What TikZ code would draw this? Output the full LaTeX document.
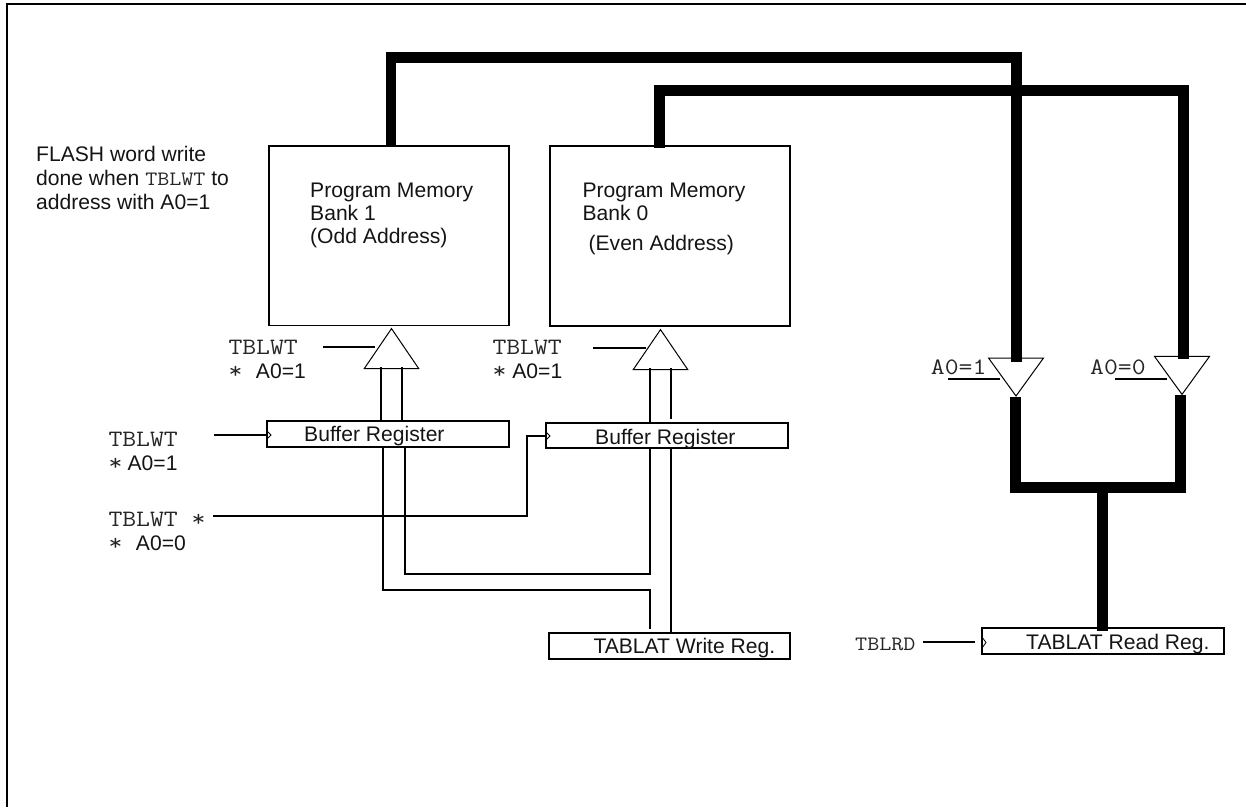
\documentclass[tikz,border=0pt]{standalone}
\usepackage{fontspec}
\setmainfont{Liberation Sans}
\newfontfamily\courfont[FakeStretch=1.146]{Latin Modern Mono}
\usetikzlibrary{shapes.geometric}
\newcommand{\mt}[1]{{\courfont\fontsize{23.5}{24}\selectfont\color{black!85}#1}}
\newcommand{\ms}[1]{{\courfont\fontsize{20.4}{24}\selectfont\color{black!85}#1}}
\tikzset{
  x=1pt,y=-1pt,
  regbox/.style={draw,line width=1.8pt,inner sep=0pt},
  wire/.style={line width=1.8pt,line cap=butt,line join=miter},
  bus/.style={line width=10.6pt,line cap=butt,line join=miter},
  gateup/.style={draw,line width=1pt,fill=white,isosceles triangle,isosceles triangle stretches,shape border rotate=90,inner sep=0pt,minimum width=54.5,minimum height=40,anchor=apex},
  gatedown/.style={draw,line width=1pt,fill=white,isosceles triangle,isosceles triangle stretches,shape border rotate=-90,inner sep=0pt,minimum width=55,minimum height=38,anchor=apex},
  clock/.style={line width=0.8pt,line join=miter},
  lbl/.style={inner sep=0pt,anchor=base west,align=left,text=black!92,font=\fontsize{21.1}{24}\selectfont}
}
\begin{document}
\begin{tikzpicture}
\useasboundingbox (0,0) rectangle (1246,807);
% frame
\coordinate (fbl) at (7,807);
\coordinate (ftl) at (7,4);
\coordinate (ftr) at (1246,4);
\draw[line width=2pt,line join=miter] (fbl) -- (ftl) -- (ftr);

% boxes
\node[regbox,minimum width=240,minimum height=179.5] (mem1) at (389,235.7) {};
\node[regbox,minimum width=240,minimum height=180.5] (mem2) at (670,236) {};
\node[regbox,minimum width=242.6,minimum height=26] (buf1) at (388,433.7) {};
\node[regbox,minimum width=242.6,minimum height=24.4] (buf2) at (667,435.5) {};
\node[regbox,minimum width=241,minimum height=26] (wreg) at (669.5,646) {};
\node[regbox,minimum width=242.6,minimum height=25.7] (rreg) at (1103,640.8) {};

% gates
\node[gateup] (g1) at (391.5,327.3) {};
\node[gateup] (g0) at (660.5,328.3) {};
\node[gatedown] (d1) at (1016,397.3) {};
\node[gatedown] (d0) at (1182,395.7) {};

% bus end points
\coordinate (m1b) at (391,147);
\coordinate (m1c) at (391,57.5);
\coordinate (m1d) at (1016.7,57.5);
\coordinate (d1t) at (1016.7,361.7);
\coordinate (m0b) at (659.6,148);
\coordinate (m0c) at (659.6,90.3);
\coordinate (m0d) at (1183.7,90.3);
\coordinate (d0t) at (1183.7,359.3);
\coordinate (d1b) at (1015.3,397.3);
\coordinate (d1e) at (1015.3,487.5);
\coordinate (d0b) at (1180.7,395.3);
\coordinate (d0e) at (1180.7,487.5);
\coordinate (jn) at (1102.7,487.5);
\coordinate (rt) at (1102.7,630.7);
\draw[bus] (m1b) -- (m1c) -- (m1d) -- (d1t);
\draw[bus] (m0b) -- (m0c) -- (m0d) -- (d0t);
\draw[bus] (d1b) -- (d1e) -- (d0e) -- (d0b);
\draw[bus] (jn) -- (rt);

% thin wires: gate 1
\coordinate (a1) at (381.3,367);
\coordinate (a2) at (381.3,420.7);
\coordinate (a3) at (402,367);
\coordinate (a4) at (402,422);
\draw[wire] (a1) -- (a2);
\draw[wire] (a3) -- (a4);
% thin wires: gate 0
\coordinate (b1) at (650,368);
\coordinate (b2) at (650,423.3);
\coordinate (b3) at (671,368);
\coordinate (b4) at (671,419.3);
\draw[wire] (b1) -- (b2);
\draw[wire] (b3) -- (b4);
% write register routing
\coordinate (c1) at (383,446.7);
\coordinate (c2) at (383,590);
\coordinate (c3) at (650,590);
\coordinate (c4) at (650,629.3);
\draw[wire] (c1) -- (c2) -- (c3) -- (c4);
\coordinate (e1) at (405,446.7);
\coordinate (e2) at (405,573.7);
\coordinate (e3) at (650,573.7);
\coordinate (e4) at (650,447.7);
\draw[wire] (e1) -- (e2) -- (e3) -- (e4);
\coordinate (f1) at (671,447.7);
\coordinate (f2) at (671,633);
\draw[wire] (f1) -- (f2);
% enables
\coordinate (h1) at (323.3,346.7);
\coordinate (h2) at (374.7,346.7);
\draw[wire] (h1) -- (h2);
\coordinate (i1) at (593.3,347.7);
\coordinate (i2) at (645.7,347.7);
\draw[wire] (i1) -- (i2);
\coordinate (j1) at (948.3,379);
\coordinate (j2) at (1000,379);
\draw[wire] (j1) -- (j2);
\coordinate (k1) at (1115,379);
\coordinate (k2) at (1166.7,379);
\draw[wire] (k1) -- (k2);
% clocks
\coordinate (l1) at (214,434.8);
\draw[wire] (l1) -- (buf1.west |- l1);
\coordinate (n1) at (213.3,515.7);
\coordinate (n2) at (527,515.7);
\coordinate (n3) at (527,436);
\draw[wire] (n1) -- (n2) -- (n3) -- (buf2.west |- n3);
\coordinate (o1) at (923.3,642);
\coordinate (o2) at (975,642);
\draw[wire] (o1) -- (o2);
\draw[clock] (267,431) -- (271,435) -- (267,439);
\draw[clock] (546,432) -- (550,436) -- (546,440);
\draw[clock] (982,637) -- (986,642.5) -- (982,648);

% texts
\node[lbl] (t1) at (36,209.3) {FLASH word write\\done when \ms{TBLWT} to\\address with A0=1};
\node[lbl] (t2) at (310,243) {Program Memory\\[-1pt]Bank 1\\[-1pt](Odd Address)};
\node[lbl] (t3) at (582.4,250) {Program Memory\\[-1pt]Bank 0\\[6pt]\hspace*{6pt}(Even Address)};
\node[lbl] (t4) at (304,441.7) {Buffer Register};
\node[lbl] (t5) at (595,444) {Buffer Register};
\node[lbl] (t6) at (593.3,653.3) {TABLAT Write Reg.};
\node[lbl] (t7) at (1026,649) {TABLAT Read Reg.};
\node[lbl] (t8) at (228.3,378.3) {\mt{TBLWT}\\\mt{*}\hspace{13.6pt}A0=1};
\node[lbl] (t9) at (492.3,378.3) {\mt{TBLWT}\\\mt{*}\hspace{6pt}A0=1};
\node[lbl] (t10) at (108.3,470) {\mt{TBLWT}\\\mt{*}\hspace{5.3pt}A0=1};
\node[lbl] (t11) at (108.3,550) {\mt{TBLWT *}\\\mt{*}\hspace{13.6pt}A0=0};
\node[lbl] (t12) at (855,650) {\ms{TBLRD}};
\node[lbl] (t13) at (930.7,374) {\mt{A0=1}};
\node[lbl] (t14) at (1090,374) {\mt{A0=0}};
\end{tikzpicture}
\end{document}
